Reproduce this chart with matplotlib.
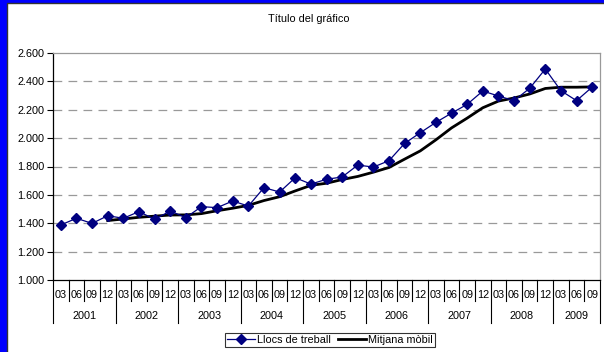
import matplotlib
matplotlib.use("Agg")
import matplotlib.pyplot as plt
from matplotlib.patches import Rectangle
from matplotlib.ticker import FuncFormatter

plt.rcParams["font.family"] = ["Liberation Sans", "DejaVu Sans"]

# quarterly series, 2001-03 .. 2009-09
years = ["2001", "2002", "2003", "2004", "2005", "2006", "2007", "2008", "2009"]
months = ["03", "06", "09", "12"]
llocs = [1388, 1435, 1399, 1453, 1435, 1482, 1428, 1486,
         1440, 1517, 1510, 1557, 1521, 1651, 1620, 1721,
         1676, 1710, 1726, 1810, 1796, 1841, 1963, 2038,
         2111, 2176, 2238, 2332, 2297, 2264, 2351, 2487,
         2334, 2264, 2360]
# 4-quarter moving average, starting at 2001-12
mitjana = [1419, 1430, 1442, 1450, 1458, 1459, 1468, 1488,
           1506, 1526, 1560, 1587, 1628, 1667, 1682, 1708,
           1730, 1760, 1793, 1852, 1910, 1988, 2072, 2141,
           2214, 2261, 2283, 2311, 2350, 2359, 2359, 2361]

FS = 7.8
W, H = 604, 352
fig = plt.figure(figsize=(W / 100, H / 100), dpi=100, facecolor="#0000ff")
fig.add_artist(Rectangle((7 / W, -0.1), 1.1, (H - 3) / H + 0.1, transform=fig.transFigure,
                         facecolor="white", edgecolor="#333333", lw=1, zorder=0))

ax = fig.add_axes([53 / W, 1 - 280 / H, 547 / W, 227 / H])
ax.set_facecolor("none")

n = len(llocs)
x = list(range(n))
ax.plot(x, llocs, color="#000080", lw=0.9, marker="D", ms=4.8, label="Llocs de treball", zorder=3)
ax.plot(x[3:], mitjana, color="black", lw=2, label="Mitjana mòbil", zorder=2)

ax.set_xlim(-0.5, n - 0.5)
ax.set_ylim(1000, 2600)
ax.set_yticks(range(1000, 2601, 200))
ax.yaxis.set_major_formatter(FuncFormatter(lambda v, p: f"{int(v):,}".replace(",", ".")))
ax.tick_params(axis="y", labelsize=FS, length=4, width=0.8, pad=2, colors="black")
ax.set_xticks([])
for yv in range(1200, 2600, 200):
    ax.axhline(yv, color="#999999", lw=0.9, dashes=(7, 5), zorder=1)

ax.spines["left"].set_color("black")
ax.spines["bottom"].set_color("black")
ax.spines["top"].set_color("#999999")
ax.spines["right"].set_color("#999999")
for s in ax.spines.values():
    s.set_linewidth(0.9)

# two-level category axis
tr = ax.get_xaxis_transform()
for i in range(n):
    ax.text(i, -0.066, months[i % 4], transform=tr, ha="center", va="center", fontsize=FS)
    if i % 4 != 0:
        ax.plot([i - 0.5, i - 0.5], [0, -0.0925], transform=tr, color="black", lw=0.8, clip_on=False)
for k, yr in enumerate(years):
    start = 4 * k - 0.5
    end = min(4 * k + 3.5, n - 0.5)
    ax.text((start + end) / 2, -0.159, yr, transform=tr, ha="center", va="center", fontsize=FS)
    ax.plot([start, start], [0, -0.189], transform=tr, color="black", lw=0.8, clip_on=False)
ax.plot([n - 0.5, n - 0.5], [0, -0.189], transform=tr, color="black", lw=0.8, clip_on=False)

fig.text(309 / W, 1 - 19 / H, "Título del gráfico", ha="center", va="center", fontsize=FS)

leg = fig.legend(loc="center", bbox_to_anchor=(330 / W, 1 - 340 / H), ncol=2, fontsize=FS,
                 frameon=True, fancybox=False, edgecolor="black", borderpad=0.2,
                 handlelength=2.6, handletextpad=0.2, columnspacing=0.6, borderaxespad=0)
leg.get_frame().set_linewidth(0.8)

fig.savefig("out.png", dpi=100, facecolor=fig.get_facecolor())
